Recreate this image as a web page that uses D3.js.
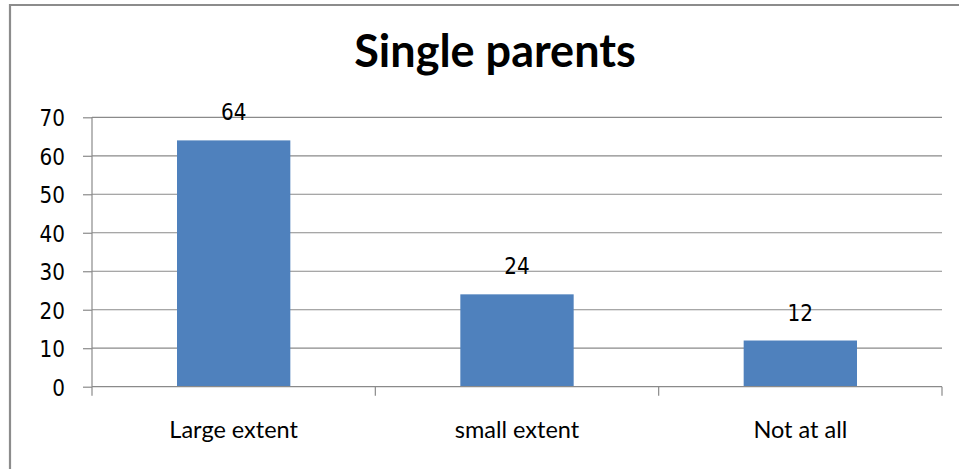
<!DOCTYPE html>
<html>
<head>
<meta charset="utf-8">
<script src="https://cdn.jsdelivr.net/npm/d3@7"></script>
<style>
  html, body { margin: 0; padding: 0; background: #fff; }
  svg { display: block; }
</style>
</head>
<body>
<svg id="chart" width="959" height="469"></svg>
<script>
// Chart data
const categories = ["Large extent", "small extent", "Not at all"];
const values = [64, 24, 12];
const yTicks = [0, 10, 20, 30, 40, 50, 60, 70];
const titleText = "Single parents";

const svg = d3.select("#chart");
const W = 959, H = 469;

// Plot area
const plot = { left: 92, right: 942, top: 117.3, bottom: 386.7 };

const x = d3.scaleBand()
  .domain(categories)
  .range([plot.left, plot.right])
  .paddingInner(0.6)
  .paddingOuter(0.3);

const y = d3.scaleLinear()
  .domain([0, 70])
  .range([plot.bottom, plot.top]);

// Number glyphs are drawn slightly tall
const numStretch = "scale(1,1.17)";

// Outer frame (top and left edges)
svg.append("path")
  .attr("d", `M10,${H} L10,5 L${W},5`)
  .attr("fill", "none")
  .attr("stroke", "#8c8c8c")
  .attr("stroke-width", 2.2);

// Title
svg.append("text")
  .attr("x", 495)
  .attr("y", 67)
  .attr("text-anchor", "middle")
  .attr("font-family", "Lato, 'Open Sans', sans-serif")
  .attr("font-weight", "bold")
  .attr("font-size", 45)
  .attr("fill", "#000")
  .text(titleText);

// Horizontal gridlines
svg.append("g")
  .selectAll("line")
  .data(yTicks.filter(d => d > 0))
  .join("line")
  .attr("x1", plot.left)
  .attr("x2", plot.right)
  .attr("y1", d => y(d))
  .attr("y2", d => y(d))
  .attr("stroke", "#8a8a8a")
  .attr("stroke-width", 1.2);

// Y axis
const yAxis = d3.axisLeft(y)
  .tickValues(yTicks)
  .tickSize(9)
  .tickPadding(18)
  .tickFormat(d3.format("d"));

const gy = svg.append("g")
  .attr("transform", `translate(${plot.left},0)`)
  .call(yAxis);
gy.select(".domain").attr("stroke", "#8a8a8a").attr("stroke-width", 1.2)
  .attr("d", `M0,${plot.top}V${plot.bottom}`);
gy.selectAll(".tick line").attr("stroke", "#8a8a8a").attr("stroke-width", 1.2);
gy.selectAll(".tick text")
  .attr("font-family", "'DejaVu Sans', sans-serif")
  .attr("font-size", 20)
  .attr("fill", "#000")
  .attr("dy", "0.36em")
  .attr("transform", numStretch);

// Bars
svg.append("g")
  .selectAll("rect")
  .data(values)
  .join("rect")
  .attr("x", (d, i) => x(categories[i]))
  .attr("width", x.bandwidth())
  .attr("y", d => y(d))
  .attr("height", d => y(0) - y(d))
  .attr("fill", "#4f81bd");

// X axis baseline and category separators
const step = (plot.right - plot.left) / categories.length;
const sepX = d3.range(categories.length + 1).map(i => plot.left + i * step);
svg.append("line")
  .attr("x1", plot.left).attr("x2", plot.right)
  .attr("y1", plot.bottom).attr("y2", plot.bottom)
  .attr("stroke", "#8a8a8a").attr("stroke-width", 1.2);
svg.append("g")
  .selectAll("line")
  .data(sepX)
  .join("line")
  .attr("x1", d => d).attr("x2", d => d)
  .attr("y1", plot.bottom).attr("y2", plot.bottom + 9)
  .attr("stroke", "#8a8a8a").attr("stroke-width", 1.2);

// Category labels
svg.append("g")
  .selectAll("text")
  .data(categories)
  .join("text")
  .attr("x", d => x(d) + x.bandwidth() / 2)
  .attr("y", 438)
  .attr("text-anchor", "middle")
  .attr("font-family", "Lato, 'Open Sans', sans-serif")
  .attr("font-size", 23.5)
  .attr("fill", "#000")
  .text(d => d);

// Value labels above bars
svg.append("g")
  .selectAll("g")
  .data(values)
  .join("g")
  .attr("transform", (d, i) =>
    `translate(${x(categories[i]) + x.bandwidth() / 2},${y(d) - 20})`)
  .append("text")
  .attr("text-anchor", "middle")
  .attr("font-family", "'DejaVu Sans', sans-serif")
  .attr("font-size", 20)
  .attr("fill", "#000")
  .attr("transform", numStretch)
  .text(d => d);
</script>
</body>
</html>
